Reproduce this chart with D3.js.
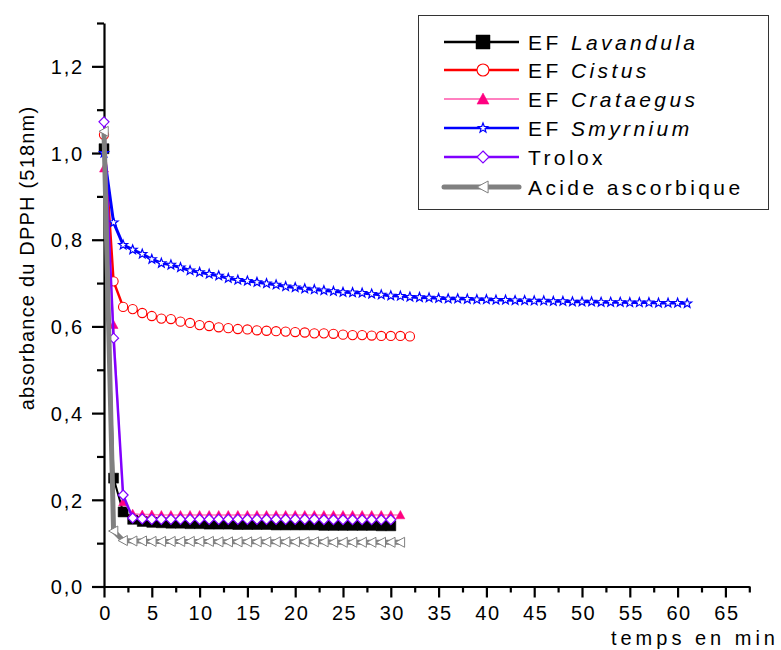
<!DOCTYPE html>
<html>
<head>
<meta charset="utf-8">
<script src="https://cdn.jsdelivr.net/npm/d3@7"></script>
<style>
  html, body { margin: 0; padding: 0; background: #fff; }
  svg { display: block; }
  text { font-family: "Liberation Sans", Arial, sans-serif; fill: #000; }
</style>
</head>
<body>
<svg id="chart" width="781" height="650"></svg>
<script>
// ---------------- data ----------------
const minutes = [0,1,2,3,4,5,6,7,8,9,10,11,12,13,14,15,16,17,18,19,20,21,22,23,24,25,26,27,28,29,30,
  31,32,33,34,35,36,37,38,39,40,41,42,43,44,45,46,47,48,49,50,51,52,53,54,55,56,57,58,59,60,61];

const lavandula = [1.01, 0.25, 0.172, 0.155, 0.150, 0.148, 0.147, 0.146, 0.146, 0.145, 0.145, 0.144, 0.144, 0.144,
  0.143, 0.143, 0.143, 0.143, 0.142, 0.142, 0.142, 0.142, 0.142, 0.141, 0.141, 0.141, 0.141, 0.141, 0.141, 0.140, 0.140];

const cistus = [1.042, 0.704, 0.645, 0.640, 0.631, 0.624, 0.618, 0.617, 0.611, 0.608, 0.603, 0.601, 0.598, 0.596,
  0.594, 0.593, 0.591, 0.590, 0.589, 0.588, 0.587, 0.586, 0.584, 0.584, 0.583, 0.581, 0.580, 0.580, 0.579, 0.578,
  0.578, 0.578, 0.577];

const crataegus = [0.965, 0.604, 0.195, 0.168, 0.166, 0.166, 0.165, 0.165, 0.165, 0.165, 0.165, 0.165, 0.165, 0.165,
  0.165, 0.165, 0.165, 0.165, 0.165, 0.165, 0.165, 0.165, 0.165, 0.165, 0.165, 0.165, 0.165, 0.165, 0.165, 0.165,
  0.165, 0.165];

const smyrnium = [1.0, 0.84, 0.788, 0.777, 0.767, 0.755, 0.746, 0.742, 0.736, 0.729, 0.725, 0.721, 0.717, 0.711,
  0.707, 0.705, 0.702, 0.699, 0.696, 0.692, 0.690, 0.687, 0.685, 0.683, 0.681, 0.679, 0.678, 0.677, 0.675, 0.673,
  0.671, 0.670, 0.668, 0.667, 0.666, 0.665, 0.664, 0.664, 0.663, 0.662, 0.662, 0.661, 0.661, 0.660, 0.660, 0.659,
  0.659, 0.658, 0.658, 0.657, 0.657, 0.657, 0.656, 0.656, 0.656, 0.655, 0.655, 0.655, 0.654, 0.654, 0.654, 0.653];

const trolox = [1.072, 0.573, 0.211, 0.158, 0.156, 0.155, 0.155, 0.155, 0.155, 0.155, 0.155, 0.155, 0.155, 0.155,
  0.155, 0.155, 0.155, 0.155, 0.155, 0.155, 0.155, 0.155, 0.155, 0.154, 0.154, 0.154, 0.154, 0.154, 0.154, 0.154, 0.154];

const ascorbique = [1.05, 0.128, 0.106, 0.105, 0.105, 0.104, 0.104, 0.104, 0.104, 0.104, 0.104, 0.104, 0.103, 0.103,
  0.103, 0.103, 0.103, 0.103, 0.103, 0.103, 0.103, 0.103, 0.103, 0.103, 0.102, 0.102, 0.102, 0.102, 0.102, 0.102,
  0.102, 0.102];

const seriesNames = ["Lavandula", "Cistus", "Crataegus", "Smyrnium", "Trolox", "Acide ascorbique"];
const xMajorTicks = [0,5,10,15,20,25,30,35,40,45,50,55,60,65];
const xMinorTicks = [2.5,7.5,12.5,17.5,22.5,27.5,32.5,37.5,42.5,47.5,52.5,57.5,62.5,67.5];
const yMajorTicks = [0,0.2,0.4,0.6,0.8,1.0,1.2];
const yMinorTicks = [0.1,0.3,0.5,0.7,0.9,1.1,1.3];

// ---------------- marker shapes ----------------
function square(s){ const h=s/2; return `M${-h},${-h}H${h}V${h}H${-h}Z`; }
function circle(r){ return `M${r},0A${r},${r} 0 1,1 ${-r},0A${r},${r} 0 1,1 ${r},0Z`; }
function triUp(s){ const h=s/2; return `M0,${-h}L${h},${h*0.85}L${-h},${h*0.85}Z`; }
function triLeft(s){ const h=s/2; return `M${-h},0L${h*0.85},${-h}L${h*0.85},${h}Z`; }
function diamond(s){ const h=s/2; return `M0,${-h}L${h},0L0,${h}L${-h},0Z`; }
function star(R){
  const r = R*0.42; let p = "";
  for (let i=0;i<10;i++){
    const a = -Math.PI/2 + i*Math.PI/5; const rr = i%2===0 ? R : r;
    p += (i===0?"M":"L") + (rr*Math.cos(a)).toFixed(2) + "," + (rr*Math.sin(a)).toFixed(2);
  }
  return p + "Z";
}

const series = [
  { name: seriesNames[0], ef: true,  values: lavandula,  line: "#000000", lw: 2,   marker: square(10),  mlegend: square(14), fill: "#000000", stroke: "#000000", sw: 0.5 },
  { name: seriesNames[1], ef: true,  values: cistus,     line: "#ff0000", lw: 2.5, marker: circle(4.6), mlegend: circle(6), fill: "#ffffff", stroke: "#ff0000", sw: 1.1 },
  { name: seriesNames[2], ef: true,  values: crataegus,  line: "#ff80c0", lw: 1.5, marker: triUp(9),    mlegend: triUp(12), fill: "#ff0080", stroke: "#ff0080", sw: 0.5 },
  { name: seriesNames[3], ef: true,  values: smyrnium,   line: "#0000ff", lw: 3,   marker: star(4.8),   mlegend: star(5),  fill: "#ffffff", stroke: "#0000ff", sw: 1.2 },
  { name: seriesNames[4], ef: false, values: trolox,     line: "#8000ff", lw: 2.5, marker: diamond(10), mlegend: diamond(12), fill: "#ffffff", stroke: "#8000ff", sw: 1.2 },
  { name: seriesNames[5], ef: false, values: ascorbique, line: "#808080", lw: 5,   marker: triLeft(10), mlegend: triLeft(12), fill: "#ffffff", stroke: "#808080", sw: 1 }
];

// ---------------- scales ----------------
const svg = d3.select("#chart");
const x = d3.scaleLinear().domain([0, 67.5]).range([104, 749.3]);
const y = d3.scaleLinear().domain([0, 1.3]).range([586.5, 23]);
const fmtY = v => d3.format(".1f")(v).replace(".", ",");

// ---------------- axes ----------------
const axisG = svg.append("g");
// y minor
axisG.append("g").attr("transform", "translate(104,0)")
  .call(d3.axisLeft(y).tickValues(yMinorTicks).tickSize(7).tickSizeOuter(0).tickFormat(""))
  .call(g => g.select(".domain").remove());
// y major
const yAx = axisG.append("g").attr("transform", "translate(104,0)")
  .call(d3.axisLeft(y).tickValues(yMajorTicks).tickSize(12).tickSizeOuter(0).tickPadding(8).tickFormat(fmtY));
// x minor
axisG.append("g").attr("transform", "translate(0,586.5)")
  .call(d3.axisBottom(x).tickValues(xMinorTicks).tickSize(6).tickSizeOuter(0).tickFormat(""))
  .call(g => g.select(".domain").remove());
// x major
const xAx = axisG.append("g").attr("transform", "translate(0,586.5)")
  .call(d3.axisBottom(x).tickValues(xMajorTicks).tickSize(11).tickSizeOuter(0).tickPadding(8).tickFormat(d3.format("d")));

axisG.selectAll("line").attr("stroke", "#000").attr("stroke-width", 2.2);
axisG.selectAll(".domain").attr("stroke", "#000").attr("stroke-width", 2.2);
yAx.selectAll("text").attr("font-size", 20).attr("letter-spacing", "1.8px").attr("dy", "0.36em")
  .attr("x", -20);
xAx.selectAll("text").attr("font-size", 20).attr("letter-spacing", "1.5px").attr("dy", "0.72em")
  .attr("dx", "1px");

// axis titles
svg.append("text")
  .attr("transform", "translate(34,258) rotate(-90)")
  .attr("text-anchor", "middle").attr("font-size", 20).attr("letter-spacing", "1.2px")
  .text("absorbance du DPPH (518nm)");
svg.append("text")
  .attr("x", 779).attr("y", 645).attr("text-anchor", "end")
  .attr("font-size", 20).attr("letter-spacing", "4px")
  .text("temps en min");

// ---------------- series ----------------
const plot = svg.append("g");
const lineGen = d3.line().x((d) => x(d.t)).y((d) => y(d.v));
series.forEach(s => {
  const pts = s.values.map((v, i) => ({ t: minutes[i], v }));
  const g = plot.append("g");
  g.append("path").datum(pts).attr("d", lineGen)
    .attr("fill", "none").attr("stroke", s.line).attr("stroke-width", s.lw)
    .attr("stroke-linejoin", "round");
  g.selectAll("path.m").data(pts).enter().append("path").attr("class", "m")
    .attr("transform", d => `translate(${x(d.t)},${y(d.v)})`)
    .attr("d", s.marker).attr("fill", s.fill).attr("stroke", s.stroke).attr("stroke-width", s.sw);
});

// ---------------- legend ----------------
const lg = svg.append("g");
lg.append("rect").attr("x", 418.5).attr("y", 15.5).attr("width", 350).attr("height", 194)
  .attr("fill", "#fff").attr("stroke", "#333").attr("stroke-width", 1);
const rowY = [42, 70, 99, 128, 157, 187];
series.forEach((s, i) => {
  const yy = rowY[i];
  lg.append("line").attr("x1", 444).attr("x2", 519).attr("y1", yy).attr("y2", yy)
    .attr("stroke", s.line).attr("stroke-width", i === 5 ? 5 : (i === 2 ? 2 : 2.5))
    .attr("stroke-linecap", i === 5 ? "round" : "butt");
  lg.append("path").attr("transform", `translate(483,${yy})`).attr("d", s.mlegend)
    .attr("fill", s.fill).attr("stroke", s.stroke).attr("stroke-width", s.sw);
  const t = lg.append("text").attr("x", 528).attr("y", yy + 8).attr("font-size", 21).attr("letter-spacing", "3.4px");
  if (s.ef) {
    t.append("tspan").text("EF ");
    t.append("tspan").attr("font-style", "italic").text(s.name);
  } else {
    t.text(s.name);
  }
});
</script>
</body>
</html>
